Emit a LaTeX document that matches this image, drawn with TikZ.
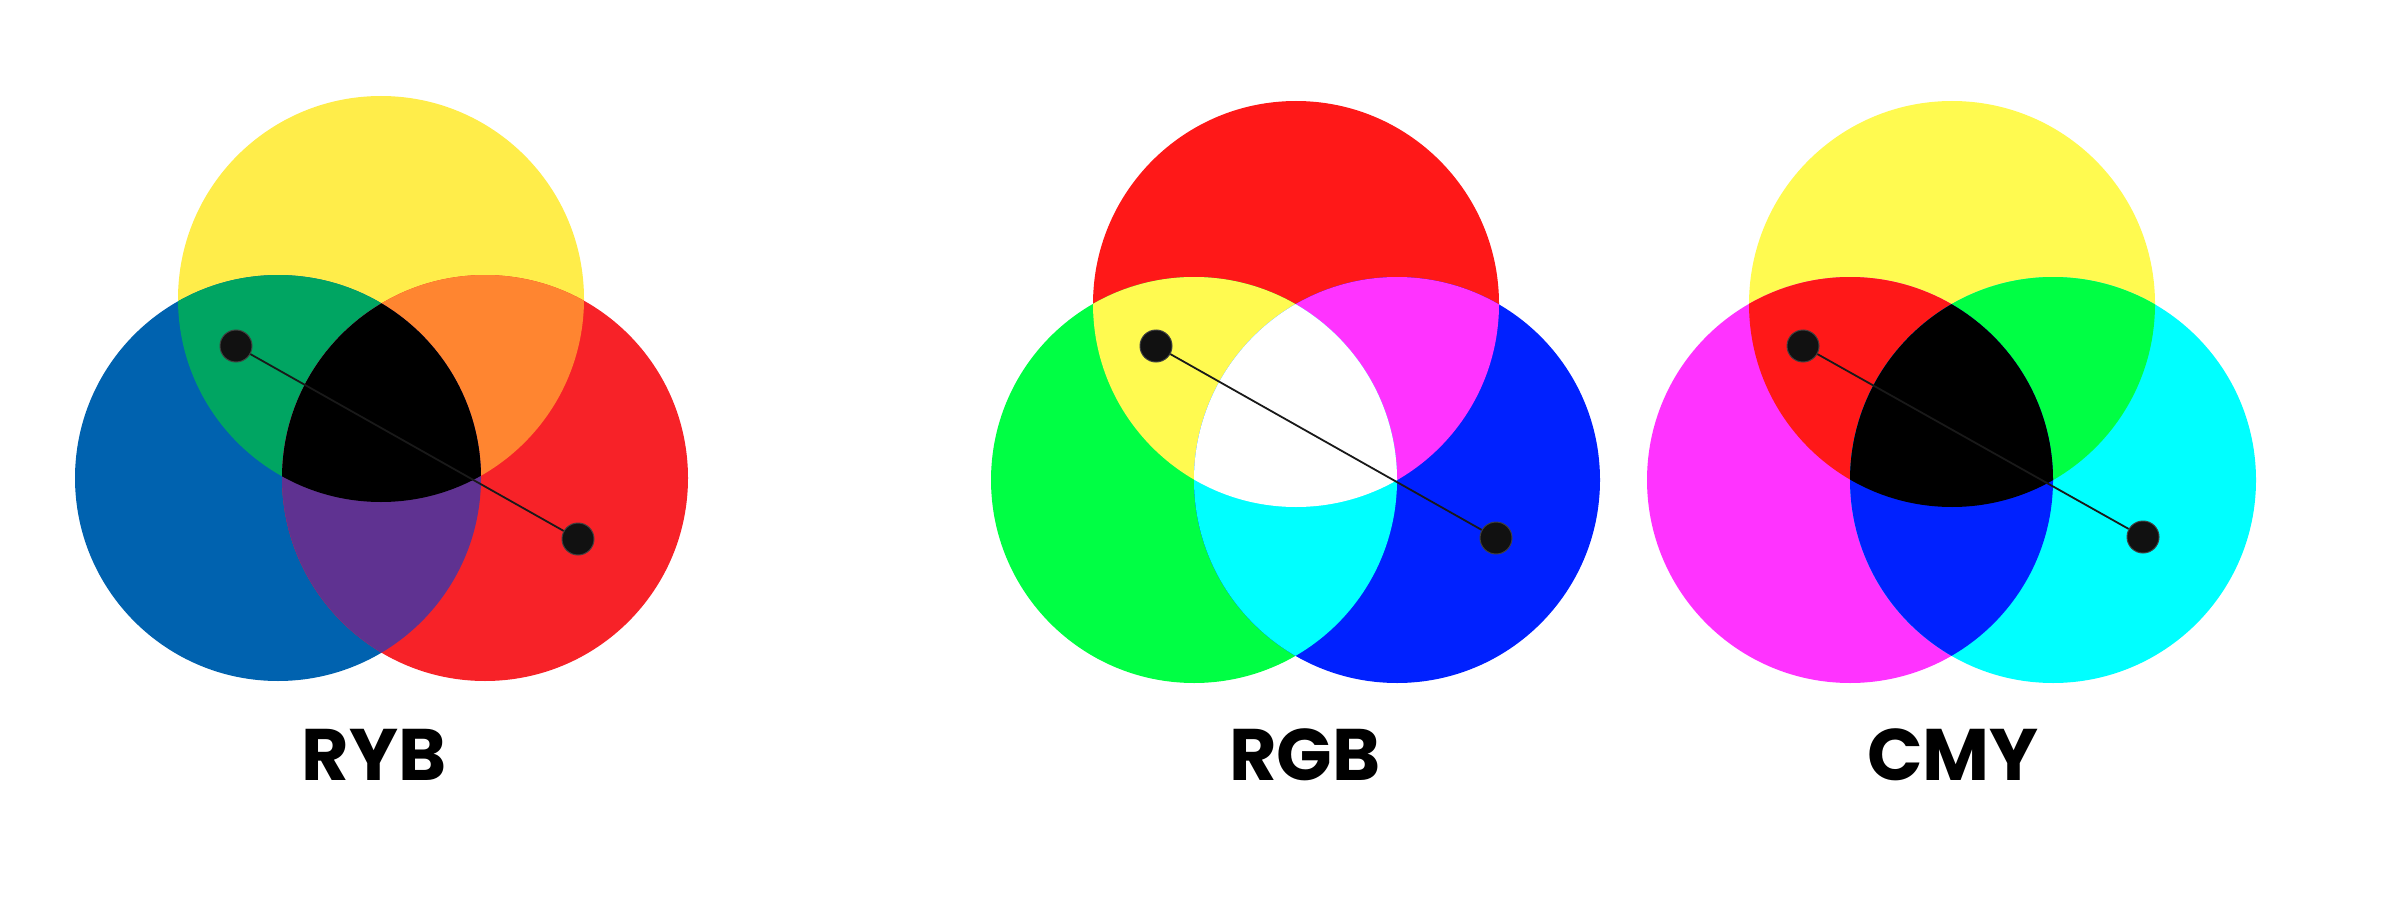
\documentclass[tikz,border=0pt]{standalone}
\usepackage{fontspec}
\newfontfamily\lblfont{Poppins}
\definecolor{rybY}{HTML}{FFED4A}
\definecolor{rybB}{HTML}{0062AF}
\definecolor{rybR}{HTML}{F72228}
\definecolor{rybG}{HTML}{00A562}
\definecolor{rybO}{HTML}{FF8530}
\definecolor{rybP}{HTML}{5F3291}
\definecolor{pR}{HTML}{FF1818}
\definecolor{pG}{HTML}{00FF44}
\definecolor{pB}{HTML}{0021FF}
\definecolor{pY}{HTML}{FFFA50}
\definecolor{pM}{HTML}{FF33FF}
\definecolor{pC}{HTML}{00FFFF}
\definecolor{dotc}{HTML}{111111}
\tikzset{
  dotnode/.style={circle,fill=dotc,draw=black!75,line width=1pt,minimum size=32pt,inner sep=0pt},
  link/.style={draw=black!90,line width=1.8pt},
  lbl/.style={font=\lblfont\bfseries\fontsize{73}{80}\selectfont,anchor=base,inner sep=0pt}
}
% #1 top centre, #2 left centre, #3 right centre, colours: top,left,right, top&left, top&right, left&right
\newcommand{\venn}[9]{%
  \fill[#4] (#1) circle[radius=203pt];
  \fill[#5] (#2) circle[radius=203pt];
  \fill[#6] (#3) circle[radius=203pt];
  \begin{scope}\clip (#1) circle[radius=203pt]; \fill[#7] (#2) circle[radius=203pt];\end{scope}
  \begin{scope}\clip (#1) circle[radius=203pt]; \fill[#8] (#3) circle[radius=203pt];\end{scope}
  \begin{scope}\clip (#2) circle[radius=203pt]; \fill[#9] (#3) circle[radius=203pt];\end{scope}
}
\begin{document}
\begin{tikzpicture}[x=1pt,y=-1pt]
\useasboundingbox[fill=white] (0,0) rectangle (2381,917);
% RYB
\venn{381,299}{278,478}{485,478}{rybY}{rybB}{rybR}{rybG}{rybO}{rybP}
\begin{scope}\clip (381,299) circle[radius=203pt]; \clip (278,478) circle[radius=203pt]; \fill[black] (485,478) circle[radius=203pt];\end{scope}
% RGB
\venn{1296,304}{1194,480}{1397,480}{pR}{pG}{pB}{pY}{pM}{pC}
\begin{scope}\clip (1296,304) circle[radius=203pt]; \clip (1194,480) circle[radius=203pt]; \fill[white] (1397,480) circle[radius=203pt];\end{scope}
% CMY
\venn{1952,304}{1850,480}{2053,480}{pY}{pM}{pC}{pR}{pG}{pB}
\begin{scope}\clip (1952,304) circle[radius=203pt]; \clip (1850,480) circle[radius=203pt]; \fill[black] (2053,480) circle[radius=203pt];\end{scope}
% dots and links
\node[dotnode] (da1) at (236,346) {};
\node[dotnode] (da2) at (578,539) {};
\node[dotnode] (db1) at (1156,346) {};
\node[dotnode] (db2) at (1496,538) {};
\node[dotnode] (dc1) at (1803,346) {};
\node[dotnode] (dc2) at (2143,537) {};
\draw[link] (da1) -- (da2);
\draw[link] (db1) -- (db2);
\draw[link] (dc1) -- (dc2);
% labels
\node[lbl] (tryb) at (374,780) {RYB};
\node[lbl] (trgb) at (1305,780) {RGB};
\node[lbl] (tcmy) at (1953,780) {CMY};
\end{tikzpicture}
\end{document}
